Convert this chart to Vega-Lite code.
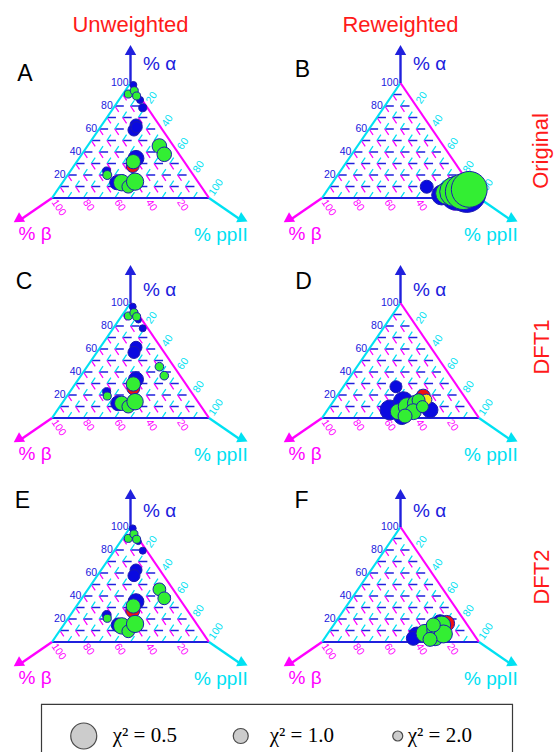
{
"$schema": "https://vega.github.io/schema/vega-lite/v6.json",
"padding": 0,
"background": "white",
"spacing": 0,
"center": true,
"config": {"view": {"stroke": null}, "concat": {"spacing": 0}, "text": {"font": "Liberation Sans"}},
"datasets": {
"edges": [
{"x":0,"y":0,"x2":100,"y2":0,"c":"a"},
{"x":0,"y":0,"x2":50,"y2":100,"c":"p"},
{"x":50,"y":100,"x2":100,"y2":0,"c":"b"}
],
"grid": [
{"x":5,"y":10,"x2":95,"y2":10,"c":"a"},
{"x":10,"y":20,"x2":90,"y2":20,"c":"a"},
{"x":15,"y":30,"x2":85,"y2":30,"c":"a"},
{"x":20,"y":40,"x2":80,"y2":40,"c":"a"},
{"x":25,"y":50,"x2":75,"y2":50,"c":"a"},
{"x":30,"y":60,"x2":70,"y2":60,"c":"a"},
{"x":35,"y":70,"x2":65,"y2":70,"c":"a"},
{"x":40,"y":80,"x2":60,"y2":80,"c":"a"},
{"x":45,"y":90,"x2":55,"y2":90,"c":"a"},
{"x":10,"y":0,"x2":55,"y2":90,"c":"p"},
{"x":20,"y":0,"x2":60,"y2":80,"c":"p"},
{"x":30,"y":0,"x2":65,"y2":70,"c":"p"},
{"x":40,"y":0,"x2":70,"y2":60,"c":"p"},
{"x":50,"y":0,"x2":75,"y2":50,"c":"p"},
{"x":60,"y":0,"x2":80,"y2":40,"c":"p"},
{"x":70,"y":0,"x2":85,"y2":30,"c":"p"},
{"x":80,"y":0,"x2":90,"y2":20,"c":"p"},
{"x":90,"y":0,"x2":95,"y2":10,"c":"p"},
{"x":45,"y":90,"x2":90,"y2":0,"c":"b"},
{"x":40,"y":80,"x2":80,"y2":0,"c":"b"},
{"x":35,"y":70,"x2":70,"y2":0,"c":"b"},
{"x":30,"y":60,"x2":60,"y2":0,"c":"b"},
{"x":25,"y":50,"x2":50,"y2":0,"c":"b"},
{"x":20,"y":40,"x2":40,"y2":0,"c":"b"},
{"x":15,"y":30,"x2":30,"y2":0,"c":"b"},
{"x":10,"y":20,"x2":20,"y2":0,"c":"b"},
{"x":5,"y":10,"x2":10,"y2":0,"c":"b"}
],
"arrows": [
{"x":50,"y":100,"x2":50,"y2":128.7,"c":"a"},
{"x":0,"y":0,"x2":-19.9,"y2":-18.7,"c":"b"},
{"x":100,"y":0,"x2":119.9,"y2":-18.7,"c":"p"}
],
"heads": [
{"x":50,"y":128.7,"c":"a"},
{"x":-19.9,"y":-18.7,"c":"b"},
{"x":119.9,"y":-18.7,"c":"p"}
],
"ticks": [
{"x":50,"y":100,"t":"100","c":"a"},
{"x":40,"y":80,"t":"80","c":"a"},
{"x":30,"y":60,"t":"60","c":"a"},
{"x":20,"y":40,"t":"40","c":"a"},
{"x":10,"y":20,"t":"20","c":"a"},
{"x":0,"y":0,"t":"100","c":"b"},
{"x":20,"y":0,"t":"80","c":"b"},
{"x":40,"y":0,"t":"60","c":"b"},
{"x":60,"y":0,"t":"40","c":"b"},
{"x":80,"y":0,"t":"20","c":"b"},
{"x":60,"y":80,"t":"20","c":"p"},
{"x":70,"y":60,"t":"40","c":"p"},
{"x":80,"y":40,"t":"60","c":"p"},
{"x":90,"y":20,"t":"80","c":"p"},
{"x":100,"y":0,"t":"100","c":"p"}
],
"alab": [
{"x":-10.8,"y":-31.3,"t":"% β","c":"b"},
{"x":107.6,"y":-32.2,"t":"% ppII","c":"p"}
],
"pts": [
{"p":"A","s":"s1","x":51.8,"y":98.3,"chi2":3.6},
{"p":"A","s":"s1","x":56.1,"y":85.2,"chi2":3.6},
{"p":"A","s":"s1","x":57.8,"y":78.5,"chi2":3.1},
{"p":"A","s":"s1","x":53.5,"y":63.5,"chi2":1.65},
{"p":"A","s":"s1","x":52.2,"y":59.1,"chi2":1.65},
{"p":"A","s":"s1","x":53.9,"y":61.5,"chi2":1.8},
{"p":"A","s":"s1","x":53.5,"y":34.5,"chi2":0.97},
{"p":"A","s":"s1","x":34.8,"y":23.5,"chi2":3.1},
{"p":"A","s":"s1","x":41.2,"y":13.3,"chi2":1.23},
{"p":"A","s":"s3","x":51.4,"y":27.8,"chi2":1.45},
{"p":"A","s":"s2","x":48.6,"y":90.4,"chi2":3.1},
{"p":"A","s":"s2","x":52.4,"y":93.3,"chi2":3.1},
{"p":"A","s":"s2","x":53.9,"y":88.7,"chi2":3.1},
{"p":"A","s":"s2","x":68.4,"y":45.2,"chi2":1.1},
{"p":"A","s":"s2","x":71.5,"y":38.0,"chi2":1.1},
{"p":"A","s":"s2","x":51.8,"y":31.6,"chi2":1.15},
{"p":"A","s":"s2","x":35.2,"y":20.0,"chi2":2.6},
{"p":"A","s":"s2","x":44.4,"y":13.3,"chi2":0.95},
{"p":"A","s":"s2","x":48.6,"y":9.8,"chi2":1.5},
{"p":"A","s":"s2","x":52.9,"y":14.2,"chi2":0.92},
{"p":"B","s":"s1","x":66.7,"y":9.8,"chi2":1.45},
{"p":"B","s":"s1","x":76.2,"y":2.6,"chi2":0.81},
{"p":"B","s":"s1","x":85.8,"y":4.1,"chi2":0.39},
{"p":"B","s":"s1","x":92.2,"y":4.1,"chi2":0.32},
{"p":"B","s":"s2","x":79.4,"y":4.1,"chi2":0.71},
{"p":"B","s":"s2","x":84.5,"y":5.5,"chi2":0.45},
{"p":"B","s":"s2","x":90.0,"y":5.5,"chi2":0.36},
{"p":"B","s":"s2","x":93.8,"y":7.5,"chi2":0.36},
{"p":"C","s":"s1","x":51.4,"y":96.8,"chi2":3.6},
{"p":"C","s":"s1","x":55.0,"y":85.2,"chi2":4.0},
{"p":"C","s":"s1","x":57.8,"y":78.0,"chi2":3.6},
{"p":"C","s":"s1","x":53.5,"y":61.5,"chi2":1.65},
{"p":"C","s":"s1","x":52.2,"y":57.0,"chi2":1.65},
{"p":"C","s":"s1","x":53.5,"y":33.6,"chi2":1.0},
{"p":"C","s":"s1","x":34.8,"y":22.9,"chi2":3.1},
{"p":"C","s":"s1","x":42.2,"y":12.8,"chi2":1.0},
{"p":"C","s":"s3","x":51.8,"y":25.8,"chi2":1.45},
{"p":"C","s":"s2","x":48.6,"y":88.7,"chi2":3.1},
{"p":"C","s":"s2","x":52.2,"y":91.6,"chi2":3.1},
{"p":"C","s":"s2","x":53.9,"y":88.1,"chi2":3.1},
{"p":"C","s":"s2","x":68.4,"y":44.6,"chi2":2.8},
{"p":"C","s":"s2","x":71.5,"y":36.8,"chi2":2.8},
{"p":"C","s":"s2","x":51.8,"y":29.6,"chi2":1.15},
{"p":"C","s":"s2","x":35.2,"y":19.1,"chi2":3.1},
{"p":"C","s":"s2","x":44.4,"y":12.8,"chi2":1.15},
{"p":"C","s":"s2","x":48.6,"y":9.9,"chi2":1.5},
{"p":"C","s":"s2","x":52.9,"y":14.2,"chi2":0.95},
{"p":"D","s":"s1","x":47.1,"y":27.2,"chi2":1.65},
{"p":"D","s":"s1","x":43.3,"y":7.0,"chi2":0.81},
{"p":"D","s":"s1","x":51.8,"y":14.2,"chi2":0.81},
{"p":"D","s":"s1","x":68.8,"y":7.0,"chi2":0.97},
{"p":"D","s":"s1","x":50.8,"y":1.2,"chi2":0.97},
{"p":"D","s":"s3","x":64.5,"y":19.0,"chi2":1.23},
{"p":"D","s":"s4","x":66.5,"y":16.0,"chi2":1.83},
{"p":"D","s":"s2","x":48.6,"y":5.5,"chi2":0.97},
{"p":"D","s":"s2","x":54.3,"y":9.9,"chi2":0.89},
{"p":"D","s":"s2","x":59.5,"y":12.8,"chi2":0.97},
{"p":"D","s":"s2","x":61.5,"y":15.5,"chi2":1.45},
{"p":"D","s":"s2","x":58.2,"y":5.5,"chi2":0.97},
{"p":"D","s":"s2","x":52.9,"y":1.7,"chi2":1.23},
{"p":"D","s":"s2","x":64.0,"y":9.9,"chi2":1.65},
{"p":"E","s":"s1","x":51.4,"y":98.8,"chi2":3.6},
{"p":"E","s":"s1","x":55.0,"y":87.3,"chi2":4.0},
{"p":"E","s":"s1","x":57.8,"y":79.4,"chi2":3.6},
{"p":"E","s":"s1","x":53.5,"y":62.6,"chi2":1.65},
{"p":"E","s":"s1","x":52.2,"y":57.7,"chi2":1.65},
{"p":"E","s":"s1","x":53.5,"y":35.1,"chi2":0.97},
{"p":"E","s":"s1","x":34.8,"y":23.5,"chi2":2.6},
{"p":"E","s":"s1","x":42.2,"y":14.8,"chi2":1.23},
{"p":"E","s":"s3","x":51.4,"y":27.2,"chi2":1.23},
{"p":"E","s":"s2","x":48.6,"y":90.1,"chi2":3.1},
{"p":"E","s":"s2","x":52.2,"y":93.9,"chi2":3.1},
{"p":"E","s":"s2","x":53.9,"y":89.3,"chi2":3.1},
{"p":"E","s":"s2","x":68.4,"y":45.8,"chi2":1.5},
{"p":"E","s":"s2","x":71.5,"y":38.0,"chi2":1.5},
{"p":"E","s":"s2","x":51.8,"y":31.3,"chi2":1.15},
{"p":"E","s":"s2","x":35.2,"y":20.6,"chi2":3.1},
{"p":"E","s":"s2","x":44.4,"y":14.0,"chi2":0.95},
{"p":"E","s":"s2","x":48.6,"y":9.3,"chi2":1.5},
{"p":"E","s":"s2","x":52.9,"y":15.7,"chi2":0.92},
{"p":"F","s":"s1","x":60.3,"y":6.1,"chi2":0.97},
{"p":"F","s":"s1","x":58.2,"y":3.2,"chi2":1.23},
{"p":"F","s":"s1","x":75.2,"y":16.8,"chi2":0.97},
{"p":"F","s":"s3","x":79.4,"y":16.2,"chi2":0.97},
{"p":"F","s":"s2","x":65.6,"y":7.5,"chi2":0.89},
{"p":"F","s":"s2","x":72.0,"y":4.6,"chi2":0.89},
{"p":"F","s":"s2","x":73.1,"y":10.4,"chi2":0.81},
{"p":"F","s":"s2","x":76.2,"y":14.8,"chi2":0.89},
{"p":"F","s":"s2","x":77.3,"y":7.0,"chi2":0.89},
{"p":"F","s":"s2","x":68.8,"y":2.3,"chi2":1.23},
{"p":"F","s":"s2","x":70.9,"y":14.8,"chi2":1.23}
],
"leg": [
{"chi2":0.5,"t":"χ² = 0.5"},
{"chi2":1,"t":"χ² = 1.0"},
{"chi2":2,"t":"χ² = 2.0"}
]
},
"vconcat": [
{"hconcat": [
{"width":270,"height":248,
"encoding":{"x":{"field":"x","type":"quantitative","axis":null,"scale":{"domain":[-33.12,138.85],"nice":false,"zero":false}},"y":{"field":"y","type":"quantitative","axis":null,"scale":{"domain":[-43.48,172.17],"nice":false,"zero":false}}},
"layer":[
{"data":{"name":"grid"},"mark":{"type":"rule","strokeWidth":1.3},"encoding":{"x2":{"field":"x2"},"y2":{"field":"y2"},"color":{"field":"c","type":"nominal","scale":{"domain":["a","b","p"],"range":["#2020dd","#ff00ff","#00e1f2"]},"legend":null},"strokeDash":{"field":"c","type":"nominal","scale":{"domain":["a","b","p"],"range":[[9,6.7],[7,6.92],[7,6.92]]},"legend":null}}},
{"data":{"name":"edges"},"mark":{"type":"rule","strokeWidth":2.2},"encoding":{"x2":{"field":"x2"},"y2":{"field":"y2"},"color":{"field":"c","type":"nominal","legend":null}}},
{"data":{"name":"arrows"},"mark":{"type":"rule","strokeWidth":2.4},"encoding":{"x2":{"field":"x2"},"y2":{"field":"y2"},"color":{"field":"c","type":"nominal","legend":null}}},
{"data":{"name":"heads"},"mark":{"type":"point","shape":"triangle-up","filled":true,"size":130,"opacity":1},"encoding":{"color":{"field":"c","type":"nominal","legend":null},"angle":{"field":"c","type":"nominal","scale":{"domain":["a","b","p"],"range":[0,235.5,124.5]},"legend":null}}},
{"data":{"name":"ticks"},"transform":[{"filter":"datum.c == 'a'"}],"mark":{"type":"text","align":"right","baseline":"middle","dx":-2,"fontSize":10.5},"encoding":{"text":{"field":"t","type":"nominal"},"color":{"field":"c","type":"nominal","legend":null}}},
{"data":{"name":"ticks"},"transform":[{"filter":"datum.c == 'b'"}],"mark":{"type":"text","align":"left","baseline":"middle","dx":3,"angle":55.7,"fontSize":10.5},"encoding":{"text":{"field":"t","type":"nominal"},"color":{"field":"c","type":"nominal","legend":null}}},
{"data":{"name":"ticks"},"transform":[{"filter":"datum.c == 'p'"}],"mark":{"type":"text","align":"left","baseline":"middle","dx":4,"angle":304.3,"fontSize":10.5},"encoding":{"text":{"field":"t","type":"nominal"},"color":{"field":"c","type":"nominal","legend":null}}},
{"data":{"name":"alab"},"mark":{"type":"text","align":"center","baseline":"middle","fontSize":19},"encoding":{"text":{"field":"t","type":"nominal"},"color":{"field":"c","type":"nominal","legend":null}}},
{"data":{"values":[{"x":68.5,"y":116.1,"t":"% α","c":"a"}]},"mark":{"type":"text","align":"center","baseline":"middle","fontSize":19},"encoding":{"text":{"field":"t","type":"nominal"},"color":{"field":"c","type":"nominal","legend":null}}},
{"data":{"values":[{"x":-17.2,"y":108,"t":"A"}]},"mark":{"type":"text","align":"center","baseline":"middle","fontSize":23,"fill":"#000000"},"encoding":{"text":{"field":"t","type":"nominal"}}},
{"data":{"values":[{"x":50,"y":150.4,"t":"Unweighted"}]},"mark":{"type":"text","align":"center","baseline":"middle","fontSize":22,"fill":"#ff1a1a"},"encoding":{"text":{"field":"t","type":"nominal"}}},
{"data":{"name":"pts"},"transform":[{"filter":"datum.p == 'A'"}],"mark":{"type":"point","shape":"circle","filled":true,"opacity":1,"stroke":"#1c1cb0","strokeWidth":1},"encoding":{"fill":{"field":"s","type":"nominal","scale":{"domain":["s1","s2","s3","s4"],"range":["#0a0ae0","#33ee33","#ee1111","#f2ee1a"]},"legend":null},"size":{"field":"chi2","type":"quantitative","scale":{"domain":[0.25,0.5,1,2,4],"range":[1764,676,225,100,36]},"legend":null}}}
]},
{"width":284,"height":248,
"encoding":{"x":{"field":"x","type":"quantitative","axis":null,"scale":{"domain":[-33.12,147.77],"nice":false,"zero":false}},"y":{"field":"y","type":"quantitative","axis":null,"scale":{"domain":[-43.48,172.17],"nice":false,"zero":false}}},
"layer":[
{"data":{"name":"grid"},"mark":{"type":"rule","strokeWidth":1.3},"encoding":{"x2":{"field":"x2"},"y2":{"field":"y2"},"color":{"field":"c","type":"nominal","scale":{"domain":["a","b","p"],"range":["#2020dd","#ff00ff","#00e1f2"]},"legend":null},"strokeDash":{"field":"c","type":"nominal","scale":{"domain":["a","b","p"],"range":[[9,6.7],[7,6.92],[7,6.92]]},"legend":null}}},
{"data":{"name":"edges"},"mark":{"type":"rule","strokeWidth":2.2},"encoding":{"x2":{"field":"x2"},"y2":{"field":"y2"},"color":{"field":"c","type":"nominal","legend":null}}},
{"data":{"name":"arrows"},"mark":{"type":"rule","strokeWidth":2.4},"encoding":{"x2":{"field":"x2"},"y2":{"field":"y2"},"color":{"field":"c","type":"nominal","legend":null}}},
{"data":{"name":"heads"},"mark":{"type":"point","shape":"triangle-up","filled":true,"size":130,"opacity":1},"encoding":{"color":{"field":"c","type":"nominal","legend":null},"angle":{"field":"c","type":"nominal","scale":{"domain":["a","b","p"],"range":[0,235.5,124.5]},"legend":null}}},
{"data":{"name":"ticks"},"transform":[{"filter":"datum.c == 'a'"}],"mark":{"type":"text","align":"right","baseline":"middle","dx":-2,"fontSize":10.5},"encoding":{"text":{"field":"t","type":"nominal"},"color":{"field":"c","type":"nominal","legend":null}}},
{"data":{"name":"ticks"},"transform":[{"filter":"datum.c == 'b'"}],"mark":{"type":"text","align":"left","baseline":"middle","dx":3,"angle":55.7,"fontSize":10.5},"encoding":{"text":{"field":"t","type":"nominal"},"color":{"field":"c","type":"nominal","legend":null}}},
{"data":{"name":"ticks"},"transform":[{"filter":"datum.c == 'p'"}],"mark":{"type":"text","align":"left","baseline":"middle","dx":4,"angle":304.3,"fontSize":10.5},"encoding":{"text":{"field":"t","type":"nominal"},"color":{"field":"c","type":"nominal","legend":null}}},
{"data":{"name":"alab"},"mark":{"type":"text","align":"center","baseline":"middle","fontSize":19},"encoding":{"text":{"field":"t","type":"nominal"},"color":{"field":"c","type":"nominal","legend":null}}},
{"data":{"values":[{"x":68.5,"y":116.1,"t":"% α","c":"a"}]},"mark":{"type":"text","align":"center","baseline":"middle","fontSize":19},"encoding":{"text":{"field":"t","type":"nominal"},"color":{"field":"c","type":"nominal","legend":null}}},
{"data":{"values":[{"x":-12.4,"y":111,"t":"B"}]},"mark":{"type":"text","align":"center","baseline":"middle","fontSize":23,"fill":"#000000"},"encoding":{"text":{"field":"t","type":"nominal"}}},
{"data":{"values":[{"x":50,"y":150.4,"t":"Reweighted"}]},"mark":{"type":"text","align":"center","baseline":"middle","fontSize":22,"fill":"#ff1a1a"},"encoding":{"text":{"field":"t","type":"nominal"}}},
{"data":{"values":[{"x":139.5,"y":40.9,"t":"Original"}]},"mark":{"type":"text","align":"center","baseline":"middle","angle":270,"fontSize":22,"fill":"#ff1a1a"},"encoding":{"text":{"field":"t","type":"nominal"}}},
{"data":{"name":"pts"},"transform":[{"filter":"datum.p == 'B'"}],"mark":{"type":"point","shape":"circle","filled":true,"opacity":1,"stroke":"#1c1cb0","strokeWidth":1},"encoding":{"fill":{"field":"s","type":"nominal","scale":{"domain":["s1","s2","s3","s4"],"range":["#0a0ae0","#33ee33","#ee1111","#f2ee1a"]},"legend":null},"size":{"field":"chi2","type":"quantitative","scale":{"domain":[0.25,0.5,1,2,4],"range":[1764,676,225,100,36]},"legend":null}}}
]}
], "spacing":0, "bounds":"flush"},
{"hconcat": [
{"width":270,"height":220,
"encoding":{"x":{"field":"x","type":"quantitative","axis":null,"scale":{"domain":[-33.12,138.85],"nice":false,"zero":false}},"y":{"field":"y","type":"quantitative","axis":null,"scale":{"domain":[-43.48,147.83],"nice":false,"zero":false}}},
"layer":[
{"data":{"name":"grid"},"mark":{"type":"rule","strokeWidth":1.3},"encoding":{"x2":{"field":"x2"},"y2":{"field":"y2"},"color":{"field":"c","type":"nominal","scale":{"domain":["a","b","p"],"range":["#2020dd","#ff00ff","#00e1f2"]},"legend":null},"strokeDash":{"field":"c","type":"nominal","scale":{"domain":["a","b","p"],"range":[[9,6.7],[7,6.92],[7,6.92]]},"legend":null}}},
{"data":{"name":"edges"},"mark":{"type":"rule","strokeWidth":2.2},"encoding":{"x2":{"field":"x2"},"y2":{"field":"y2"},"color":{"field":"c","type":"nominal","legend":null}}},
{"data":{"name":"arrows"},"mark":{"type":"rule","strokeWidth":2.4},"encoding":{"x2":{"field":"x2"},"y2":{"field":"y2"},"color":{"field":"c","type":"nominal","legend":null}}},
{"data":{"name":"heads"},"mark":{"type":"point","shape":"triangle-up","filled":true,"size":130,"opacity":1},"encoding":{"color":{"field":"c","type":"nominal","legend":null},"angle":{"field":"c","type":"nominal","scale":{"domain":["a","b","p"],"range":[0,235.5,124.5]},"legend":null}}},
{"data":{"name":"ticks"},"transform":[{"filter":"datum.c == 'a'"}],"mark":{"type":"text","align":"right","baseline":"middle","dx":-2,"fontSize":10.5},"encoding":{"text":{"field":"t","type":"nominal"},"color":{"field":"c","type":"nominal","legend":null}}},
{"data":{"name":"ticks"},"transform":[{"filter":"datum.c == 'b'"}],"mark":{"type":"text","align":"left","baseline":"middle","dx":3,"angle":55.7,"fontSize":10.5},"encoding":{"text":{"field":"t","type":"nominal"},"color":{"field":"c","type":"nominal","legend":null}}},
{"data":{"name":"ticks"},"transform":[{"filter":"datum.c == 'p'"}],"mark":{"type":"text","align":"left","baseline":"middle","dx":4,"angle":304.3,"fontSize":10.5},"encoding":{"text":{"field":"t","type":"nominal"},"color":{"field":"c","type":"nominal","legend":null}}},
{"data":{"name":"alab"},"mark":{"type":"text","align":"center","baseline":"middle","fontSize":19},"encoding":{"text":{"field":"t","type":"nominal"},"color":{"field":"c","type":"nominal","legend":null}}},
{"data":{"values":[{"x":68.5,"y":111.3,"t":"% α","c":"a"}]},"mark":{"type":"text","align":"center","baseline":"middle","fontSize":19},"encoding":{"text":{"field":"t","type":"nominal"},"color":{"field":"c","type":"nominal","legend":null}}},
{"data":{"values":[{"x":-17.8,"y":118,"t":"C"}]},"mark":{"type":"text","align":"center","baseline":"middle","fontSize":23,"fill":"#000000"},"encoding":{"text":{"field":"t","type":"nominal"}}},
{"data":{"name":"pts"},"transform":[{"filter":"datum.p == 'C'"}],"mark":{"type":"point","shape":"circle","filled":true,"opacity":1,"stroke":"#1c1cb0","strokeWidth":1},"encoding":{"fill":{"field":"s","type":"nominal","scale":{"domain":["s1","s2","s3","s4"],"range":["#0a0ae0","#33ee33","#ee1111","#f2ee1a"]},"legend":null},"size":{"field":"chi2","type":"quantitative","scale":{"domain":[0.25,0.5,1,2,4],"range":[1764,676,225,100,36]},"legend":null}}}
]},
{"width":284,"height":220,
"encoding":{"x":{"field":"x","type":"quantitative","axis":null,"scale":{"domain":[-33.12,147.77],"nice":false,"zero":false}},"y":{"field":"y","type":"quantitative","axis":null,"scale":{"domain":[-43.48,147.83],"nice":false,"zero":false}}},
"layer":[
{"data":{"name":"grid"},"mark":{"type":"rule","strokeWidth":1.3},"encoding":{"x2":{"field":"x2"},"y2":{"field":"y2"},"color":{"field":"c","type":"nominal","scale":{"domain":["a","b","p"],"range":["#2020dd","#ff00ff","#00e1f2"]},"legend":null},"strokeDash":{"field":"c","type":"nominal","scale":{"domain":["a","b","p"],"range":[[9,6.7],[7,6.92],[7,6.92]]},"legend":null}}},
{"data":{"name":"edges"},"mark":{"type":"rule","strokeWidth":2.2},"encoding":{"x2":{"field":"x2"},"y2":{"field":"y2"},"color":{"field":"c","type":"nominal","legend":null}}},
{"data":{"name":"arrows"},"mark":{"type":"rule","strokeWidth":2.4},"encoding":{"x2":{"field":"x2"},"y2":{"field":"y2"},"color":{"field":"c","type":"nominal","legend":null}}},
{"data":{"name":"heads"},"mark":{"type":"point","shape":"triangle-up","filled":true,"size":130,"opacity":1},"encoding":{"color":{"field":"c","type":"nominal","legend":null},"angle":{"field":"c","type":"nominal","scale":{"domain":["a","b","p"],"range":[0,235.5,124.5]},"legend":null}}},
{"data":{"name":"ticks"},"transform":[{"filter":"datum.c == 'a'"}],"mark":{"type":"text","align":"right","baseline":"middle","dx":-2,"fontSize":10.5},"encoding":{"text":{"field":"t","type":"nominal"},"color":{"field":"c","type":"nominal","legend":null}}},
{"data":{"name":"ticks"},"transform":[{"filter":"datum.c == 'b'"}],"mark":{"type":"text","align":"left","baseline":"middle","dx":3,"angle":55.7,"fontSize":10.5},"encoding":{"text":{"field":"t","type":"nominal"},"color":{"field":"c","type":"nominal","legend":null}}},
{"data":{"name":"ticks"},"transform":[{"filter":"datum.c == 'p'"}],"mark":{"type":"text","align":"left","baseline":"middle","dx":4,"angle":304.3,"fontSize":10.5},"encoding":{"text":{"field":"t","type":"nominal"},"color":{"field":"c","type":"nominal","legend":null}}},
{"data":{"name":"alab"},"mark":{"type":"text","align":"center","baseline":"middle","fontSize":19},"encoding":{"text":{"field":"t","type":"nominal"},"color":{"field":"c","type":"nominal","legend":null}}},
{"data":{"values":[{"x":68.5,"y":111.3,"t":"% α","c":"a"}]},"mark":{"type":"text","align":"center","baseline":"middle","fontSize":19},"encoding":{"text":{"field":"t","type":"nominal"},"color":{"field":"c","type":"nominal","legend":null}}},
{"data":{"values":[{"x":-11.8,"y":118,"t":"D"}]},"mark":{"type":"text","align":"center","baseline":"middle","fontSize":23,"fill":"#000000"},"encoding":{"text":{"field":"t","type":"nominal"}}},
{"data":{"values":[{"x":140,"y":61.7,"t":"DFT1"}]},"mark":{"type":"text","align":"center","baseline":"middle","angle":270,"fontSize":22,"fill":"#ff1a1a"},"encoding":{"text":{"field":"t","type":"nominal"}}},
{"data":{"name":"pts"},"transform":[{"filter":"datum.p == 'D'"}],"mark":{"type":"point","shape":"circle","filled":true,"opacity":1,"stroke":"#1c1cb0","strokeWidth":1},"encoding":{"fill":{"field":"s","type":"nominal","scale":{"domain":["s1","s2","s3","s4"],"range":["#0a0ae0","#33ee33","#ee1111","#f2ee1a"]},"legend":null},"size":{"field":"chi2","type":"quantitative","scale":{"domain":[0.25,0.5,1,2,4],"range":[1764,676,225,100,36]},"legend":null}}}
]}
], "spacing":0, "bounds":"flush"},
{"hconcat": [
{"width":270,"height":235,
"encoding":{"x":{"field":"x","type":"quantitative","axis":null,"scale":{"domain":[-33.12,138.85],"nice":false,"zero":false}},"y":{"field":"y","type":"quantitative","axis":null,"scale":{"domain":[-53.04,151.30],"nice":false,"zero":false}}},
"layer":[
{"data":{"name":"grid"},"mark":{"type":"rule","strokeWidth":1.3},"encoding":{"x2":{"field":"x2"},"y2":{"field":"y2"},"color":{"field":"c","type":"nominal","scale":{"domain":["a","b","p"],"range":["#2020dd","#ff00ff","#00e1f2"]},"legend":null},"strokeDash":{"field":"c","type":"nominal","scale":{"domain":["a","b","p"],"range":[[9,6.7],[7,6.92],[7,6.92]]},"legend":null}}},
{"data":{"name":"edges"},"mark":{"type":"rule","strokeWidth":2.2},"encoding":{"x2":{"field":"x2"},"y2":{"field":"y2"},"color":{"field":"c","type":"nominal","legend":null}}},
{"data":{"name":"arrows"},"mark":{"type":"rule","strokeWidth":2.4},"encoding":{"x2":{"field":"x2"},"y2":{"field":"y2"},"color":{"field":"c","type":"nominal","legend":null}}},
{"data":{"name":"heads"},"mark":{"type":"point","shape":"triangle-up","filled":true,"size":130,"opacity":1},"encoding":{"color":{"field":"c","type":"nominal","legend":null},"angle":{"field":"c","type":"nominal","scale":{"domain":["a","b","p"],"range":[0,235.5,124.5]},"legend":null}}},
{"data":{"name":"ticks"},"transform":[{"filter":"datum.c == 'a'"}],"mark":{"type":"text","align":"right","baseline":"middle","dx":-2,"fontSize":10.5},"encoding":{"text":{"field":"t","type":"nominal"},"color":{"field":"c","type":"nominal","legend":null}}},
{"data":{"name":"ticks"},"transform":[{"filter":"datum.c == 'b'"}],"mark":{"type":"text","align":"left","baseline":"middle","dx":3,"angle":55.7,"fontSize":10.5},"encoding":{"text":{"field":"t","type":"nominal"},"color":{"field":"c","type":"nominal","legend":null}}},
{"data":{"name":"ticks"},"transform":[{"filter":"datum.c == 'p'"}],"mark":{"type":"text","align":"left","baseline":"middle","dx":4,"angle":304.3,"fontSize":10.5},"encoding":{"text":{"field":"t","type":"nominal"},"color":{"field":"c","type":"nominal","legend":null}}},
{"data":{"name":"alab"},"mark":{"type":"text","align":"center","baseline":"middle","fontSize":19},"encoding":{"text":{"field":"t","type":"nominal"},"color":{"field":"c","type":"nominal","legend":null}}},
{"data":{"values":[{"x":68.5,"y":114.3,"t":"% α","c":"a"}]},"mark":{"type":"text","align":"center","baseline":"middle","fontSize":19},"encoding":{"text":{"field":"t","type":"nominal"},"color":{"field":"c","type":"nominal","legend":null}}},
{"data":{"values":[{"x":-18.8,"y":123,"t":"E"}]},"mark":{"type":"text","align":"center","baseline":"middle","fontSize":23,"fill":"#000000"},"encoding":{"text":{"field":"t","type":"nominal"}}},
{"data":{"name":"pts"},"transform":[{"filter":"datum.p == 'E'"}],"mark":{"type":"point","shape":"circle","filled":true,"opacity":1,"stroke":"#1c1cb0","strokeWidth":1},"encoding":{"fill":{"field":"s","type":"nominal","scale":{"domain":["s1","s2","s3","s4"],"range":["#0a0ae0","#33ee33","#ee1111","#f2ee1a"]},"legend":null},"size":{"field":"chi2","type":"quantitative","scale":{"domain":[0.25,0.5,1,2,4],"range":[1764,676,225,100,36]},"legend":null}}}
]},
{"width":284,"height":235,
"encoding":{"x":{"field":"x","type":"quantitative","axis":null,"scale":{"domain":[-33.12,147.77],"nice":false,"zero":false}},"y":{"field":"y","type":"quantitative","axis":null,"scale":{"domain":[-53.04,151.30],"nice":false,"zero":false}}},
"layer":[
{"data":{"name":"grid"},"mark":{"type":"rule","strokeWidth":1.3},"encoding":{"x2":{"field":"x2"},"y2":{"field":"y2"},"color":{"field":"c","type":"nominal","scale":{"domain":["a","b","p"],"range":["#2020dd","#ff00ff","#00e1f2"]},"legend":null},"strokeDash":{"field":"c","type":"nominal","scale":{"domain":["a","b","p"],"range":[[9,6.7],[7,6.92],[7,6.92]]},"legend":null}}},
{"data":{"name":"edges"},"mark":{"type":"rule","strokeWidth":2.2},"encoding":{"x2":{"field":"x2"},"y2":{"field":"y2"},"color":{"field":"c","type":"nominal","legend":null}}},
{"data":{"name":"arrows"},"mark":{"type":"rule","strokeWidth":2.4},"encoding":{"x2":{"field":"x2"},"y2":{"field":"y2"},"color":{"field":"c","type":"nominal","legend":null}}},
{"data":{"name":"heads"},"mark":{"type":"point","shape":"triangle-up","filled":true,"size":130,"opacity":1},"encoding":{"color":{"field":"c","type":"nominal","legend":null},"angle":{"field":"c","type":"nominal","scale":{"domain":["a","b","p"],"range":[0,235.5,124.5]},"legend":null}}},
{"data":{"name":"ticks"},"transform":[{"filter":"datum.c == 'a'"}],"mark":{"type":"text","align":"right","baseline":"middle","dx":-2,"fontSize":10.5},"encoding":{"text":{"field":"t","type":"nominal"},"color":{"field":"c","type":"nominal","legend":null}}},
{"data":{"name":"ticks"},"transform":[{"filter":"datum.c == 'b'"}],"mark":{"type":"text","align":"left","baseline":"middle","dx":3,"angle":55.7,"fontSize":10.5},"encoding":{"text":{"field":"t","type":"nominal"},"color":{"field":"c","type":"nominal","legend":null}}},
{"data":{"name":"ticks"},"transform":[{"filter":"datum.c == 'p'"}],"mark":{"type":"text","align":"left","baseline":"middle","dx":4,"angle":304.3,"fontSize":10.5},"encoding":{"text":{"field":"t","type":"nominal"},"color":{"field":"c","type":"nominal","legend":null}}},
{"data":{"name":"alab"},"mark":{"type":"text","align":"center","baseline":"middle","fontSize":19},"encoding":{"text":{"field":"t","type":"nominal"},"color":{"field":"c","type":"nominal","legend":null}}},
{"data":{"values":[{"x":68.5,"y":114.3,"t":"% α","c":"a"}]},"mark":{"type":"text","align":"center","baseline":"middle","fontSize":19},"encoding":{"text":{"field":"t","type":"nominal"},"color":{"field":"c","type":"nominal","legend":null}}},
{"data":{"values":[{"x":-13.1,"y":123,"t":"F"}]},"mark":{"type":"text","align":"center","baseline":"middle","fontSize":23,"fill":"#000000"},"encoding":{"text":{"field":"t","type":"nominal"}}},
{"data":{"values":[{"x":140,"y":56.5,"t":"DFT2"}]},"mark":{"type":"text","align":"center","baseline":"middle","angle":270,"fontSize":22,"fill":"#ff1a1a"},"encoding":{"text":{"field":"t","type":"nominal"}}},
{"data":{"name":"pts"},"transform":[{"filter":"datum.p == 'F'"}],"mark":{"type":"point","shape":"circle","filled":true,"opacity":1,"stroke":"#1c1cb0","strokeWidth":1},"encoding":{"fill":{"field":"s","type":"nominal","scale":{"domain":["s1","s2","s3","s4"],"range":["#0a0ae0","#33ee33","#ee1111","#f2ee1a"]},"legend":null},"size":{"field":"chi2","type":"quantitative","scale":{"domain":[0.25,0.5,1,2,4],"range":[1764,676,225,100,36]},"legend":null}}}
]}
], "spacing":0, "bounds":"flush"},
{"width":471,"height":64,
"view":{"stroke":"#3a3a3a","strokeWidth":1.2},
"data":{"name":"leg"},
"encoding":{"x":{"field":"chi2","type":"ordinal","axis":null,"scale":{"type":"point","paddingOuter":0.486,"align":0.271}}},
"layer":[
{"mark":{"type":"point","shape":"circle","filled":true,"fill":"#cccccc","stroke":"#4a4a4a","strokeWidth":1.2,"opacity":1},"encoding":{"size":{"field":"chi2","type":"quantitative","scale":{"domain":[0.25,0.5,1,2,4],"range":[1764,676,225,100,36]},"legend":null}}},
{"transform":[{"filter":"datum.chi2 < 1.5"}],"mark":{"type":"text","align":"left","baseline":"middle","dx":29,"font":"Liberation Serif","fontSize":21,"fill":"#000000"},"encoding":{"text":{"field":"t","type":"nominal"}}},
{"transform":[{"filter":"datum.chi2 > 1.5"}],"mark":{"type":"text","align":"left","baseline":"middle","dx":10,"font":"Liberation Serif","fontSize":21,"fill":"#000000"},"encoding":{"text":{"field":"t","type":"nominal"}}}
]}
]
}
